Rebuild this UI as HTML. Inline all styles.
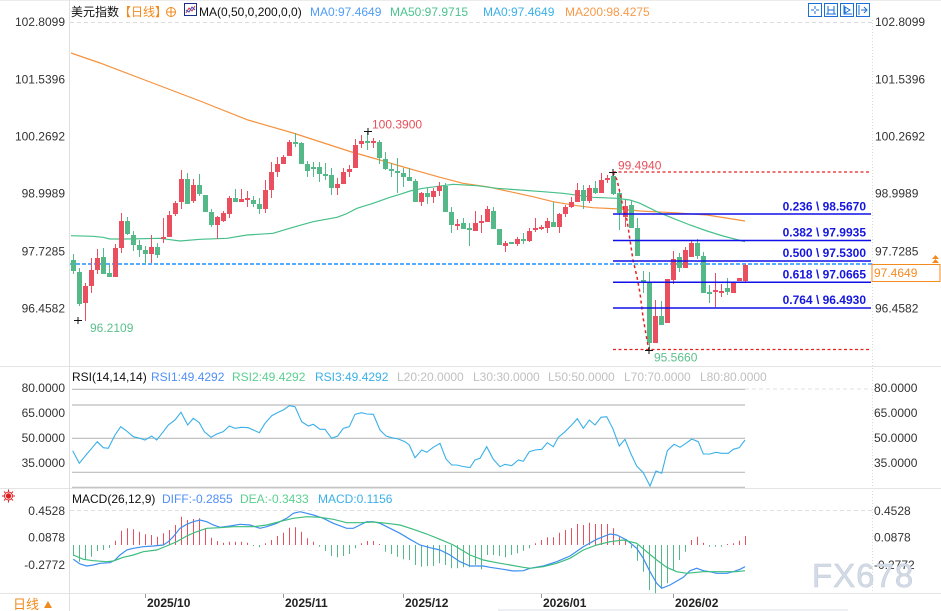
<!DOCTYPE html>
<html><head><meta charset="utf-8"><style>
html,body{margin:0;padding:0;background:#fff;}
body{width:941px;height:611px;overflow:hidden;}
svg{display:block;}
text{font-family:"Liberation Sans","Noto Sans CJK SC",sans-serif;font-size:12px;}
</style></head><body>
<svg width="941" height="611" viewBox="0 0 941 611" xmlns="http://www.w3.org/2000/svg">
<rect width="941" height="611" fill="#fff"/>
<!-- frame lines -->
<line x1="0" y1="0.5" x2="941" y2="0.5" stroke="#ececec"/>
<line x1="69.5" y1="0" x2="69.5" y2="611" stroke="#e0e0e0"/>
<line x1="872.5" y1="20" x2="872.5" y2="593" stroke="#d8d8d8" stroke-dasharray="1,2"/>
<line x1="0" y1="366.5" x2="941" y2="366.5" stroke="#e4e4e4"/>
<line x1="0" y1="488.5" x2="941" y2="488.5" stroke="#e4e4e4"/>
<line x1="0" y1="593.5" x2="941" y2="593.5" stroke="#e4e4e4"/>
<line x1="498" y1="610" x2="848" y2="610" stroke="#e6ecf2" stroke-width="1.5"/>

<!-- main grid -->
<line x1="70" y1="22.5" x2="872" y2="22.5" stroke="#dcdcdc" stroke-dasharray="4,3"/>

<!-- header -->
<text x="71" y="16" fill="#111">美元指数</text>
<text x="119" y="16" fill="#f08a1e">【日线】</text>
<circle cx="171" cy="12" r="4.5" fill="none" stroke="#f08a1e" stroke-width="1"/>
<line x1="166.5" y1="12" x2="175.5" y2="12" stroke="#f08a1e"/>
<line x1="171" y1="7.5" x2="171" y2="16.5" stroke="#f08a1e"/>
<rect x="184.5" y="3.5" width="12" height="12" fill="#fff" stroke="#1c2e8c"/>
<polyline points="186,13 189,8 192,11 195,6" fill="none" stroke="#e03030" stroke-width="1"/>
<polyline points="186,10 189,12 192,7 195,10" fill="none" stroke="#3050d0" stroke-width="1"/>
<text x="199" y="16" fill="#111">MA(0,50,0,200,0,0)</text>
<text x="310" y="16" fill="#4f9cf9">MA0:97.4649</text>
<text x="390" y="16" fill="#49c48e">MA50:97.9715</text>
<text x="483" y="16" fill="#3ab0e8">MA0:97.4649</text>
<text x="565" y="16" fill="#f79a4a">MA200:98.4275</text>

<!-- top right icons -->
<g fill="none" stroke="#1a6fd8" stroke-width="1">
<rect x="808.5" y="3.5" width="13" height="13"/>
<path d="M815 6v3M815 11v3M811 10h3M816 10h3"/>
<rect x="824.5" y="3.5" width="13" height="13"/>
<path d="M828 6v8M834 6v8M828 10h6M826 14h10"/>
<rect x="840.5" y="3.5" width="13" height="13"/>
<path d="M844 5v9h8M845 7l5 3-5 3z"/>
<rect x="856.5" y="3.5" width="13" height="13"/>
<path d="M859 5v10M861 10h5M864 7l3 3-3 3"/>
</g>

<!-- axis labels main -->
<g fill="#333">
<text x="65" y="26" text-anchor="end">102.8099</text>
<text x="65" y="83.5" text-anchor="end">101.5396</text>
<text x="65" y="140.5" text-anchor="end">100.2692</text>
<text x="65" y="197.5" text-anchor="end">98.9989</text>
<text x="65" y="255.5" text-anchor="end">97.7285</text>
<text x="65" y="312.5" text-anchor="end">96.4582</text>
<text x="875" y="26">102.8099</text>
<text x="875" y="83.5">101.5396</text>
<text x="875" y="140.5">100.2692</text>
<text x="875" y="197.5">98.9989</text>
<text x="875" y="255.5">97.7285</text>
<text x="875" y="312.5">96.4582</text>
</g>

<!-- MA200 -->
<polyline fill="none" stroke="#f5923e" stroke-width="1.2" points="71,53 100,63 150,82 200,101 248,120 293,133 350,151.5 373,158 400,166 420,171.7 440,177.3 463,183.3 487,186.7 510,191.7 533,196.7 553,201.7 577,205.7 593,207.7 620,209 640,211 673,212.7 707,215 745,221"/>
<!-- MA50 -->
<polyline fill="none" stroke="#46c08a" stroke-width="1.2" points="71,235.7 93,236.3 103,237.3 110,239 127,239 160,238.3 180,241 200,239.3 227,238.3 247,235 273,233.3 293,227.3 313,221.7 337,217.3 346,214 357,208.3 373,203.3 390,197.3 400,194.3 410,191 423,188.3 453,184.3 477,185.7 497,188.3 520,190 543,191.7 563,193.3 593,197.3 617,198.3 630,200 640,203.3 657,211.7 673,218.3 690,225 707,231 723,236 745,241.7"/>

<!-- current price dashed -->
<line x1="70" y1="264" x2="872" y2="264" stroke="#1e90ff" stroke-width="1.5" stroke-dasharray="4,2"/>

<!-- candles green -->
<path stroke="#55b888" stroke-width="1" fill="none" d="M73.5 254V274M79.5 268V306M103.5 248V274M109.5 265V277M127.5 217V235M133.5 231V251M139.5 240V257M145.5 246V264M157.5 243V258M187.5 173V204M199.5 174V196M211.5 209V227M235.5 189V202M253.5 196V207M259.5 198V214M295.5 133V147M301.5 142V164M307.5 161V177M313.5 162V177M319.5 162V182M325.5 163V180M331.5 168V195M367.5 131V150M379.5 140V164M385.5 152V170M391.5 163V177M397.5 158V193M403.5 168V187M409.5 168V181M415.5 179V202M427.5 188V204M445.5 183V212M451.5 207V233M463.5 218V229M469.5 223V246M493.5 207V229M523.5 233V244M553.5 202V227M583.5 185V209M595.5 181V194M613.5 172V195M619.5 189V230M631.5 200V228M637.5 218V256M643.5 271V293M649.5 272V351M661.5 301V325M679.5 253V272M697.5 239V259M703.5 252V293M709.5 285V303M727.5 278V295"/>
<path fill="#55b888" d="M71 260h5v11h-5zM77 272h5v32h-5zM101 257h5v17h-5zM107 273h5v4h-5zM125 221h5v13h-5zM131 235h5v10h-5zM137 245h5v5h-5zM143 250h5v4h-5zM155 247h5v8h-5zM185 179h5v25h-5zM197 185h5v9h-5zM203 195h5v17h-5zM209 212h5v13h-5zM233 198h5v4h-5zM251 200h5v4h-5zM257 204h5v5h-5zM293 142h5v2h-5zM299 143h5v21h-5zM305 164h5v7h-5zM311 167h5v2h-5zM317 167h5v7h-5zM323 174h5v2h-5zM329 175h5v13h-5zM365 141h5v2h-5zM377 142h5v16h-5zM383 159h5v10h-5zM389 169h5v2h-5zM395 171h5v2h-5zM401 173h5v4h-5zM407 177h5v4h-5zM413 181h5v21h-5zM425 193h5v4h-5zM443 186h5v26h-5zM449 212h5v13h-5zM461 223h5v6h-5zM467 228h5v2h-5zM491 211h5v18h-5zM497 229h5v16h-5zM509 242h5v2h-5zM521 239h5v2h-5zM551 222h5v5h-5zM581 190h5v11h-5zM593 188h5v5h-5zM611 176h5v18h-5zM617 193h5v20h-5zM629 205h5v23h-5zM635 228h5v28h-5zM641 280h5v3h-5zM647 283h5v60h-5zM659 316h5v9h-5zM677 257h5v11h-5zM695 243h5v13h-5zM701 256h5v37h-5zM707 292h5v2h-5zM725 288h5v4h-5z"/>
<!-- candles red -->
<path stroke="#ea4f5f" stroke-width="1" fill="none" d="M85.5 283V321M91.5 258V293M97.5 249V274M115.5 244V277M121.5 213V253M151.5 235V263M163.5 218V243M169.5 211V237M175.5 201V216M181.5 170V209M193.5 179V203M217.5 216V239M223.5 211V222M229.5 196V218M241.5 189V202M247.5 191V207M265.5 180V213M271.5 162V198M277.5 157V177M283.5 155V164M289.5 140V156M337.5 178V195M343.5 168V184M349.5 165V177M355.5 139V168M361.5 135V148M373.5 138V148M421.5 192V206M433.5 188V203M439.5 182V196M457.5 219V230M475.5 211V231M481.5 215V233M487.5 206V222M505.5 241V252M517.5 237V246M529.5 228V242M535.5 218V232M541.5 225V230M547.5 218V233M559.5 213V233M565.5 205V217M571.5 197V208M577.5 183V202M589.5 185V203M601.5 173V193M607.5 175V183M625.5 200V227M655.5 300V343M673.5 251V284M685.5 247V268M691.5 240V257M715.5 273V307M721.5 284V297M745.5 264V282"/>
<path fill="#ea4f5f" d="M83 286h5v17h-5zM89 270h5v16h-5zM95 258h5v12h-5zM113 248h5v29h-5zM119 221h5v27h-5zM149 247h5v7h-5zM161 237h5v2h-5zM167 215h5v22h-5zM173 203h5v11h-5zM179 179h5v23h-5zM191 185h5v16h-5zM215 217h5v8h-5zM221 213h5v8h-5zM227 198h5v16h-5zM239 199h5v3h-5zM245 198h5v2h-5zM263 190h5v19h-5zM269 172h5v18h-5zM275 164h5v8h-5zM281 157h5v7h-5zM287 142h5v14h-5zM335 184h5v4h-5zM341 172h5v12h-5zM347 169h5v3h-5zM353 145h5v23h-5zM359 141h5v3h-5zM371 141h5v2h-5zM419 193h5v9h-5zM431 191h5v6h-5zM437 186h5v5h-5zM455 224h5v2h-5zM473 223h5v8h-5zM479 221h5v2h-5zM485 209h5v13h-5zM503 243h5v3h-5zM515 239h5v5h-5zM527 231h5v10h-5zM533 228h5v2h-5zM539 227h5v2h-5zM545 221h5v7h-5zM557 214h5v13h-5zM563 207h5v7h-5zM569 202h5v5h-5zM575 190h5v12h-5zM587 188h5v13h-5zM599 180h5v13h-5zM605 178h5v2h-5zM623 206h5v11h-5zM653 316h5v27h-5zM665 279h5v44h-5zM671 259h5v21h-5zM683 250h5v18h-5zM689 243h5v14h-5zM713 290h5v2h-5zM719 291h5v2h-5zM731 283h5v10h-5zM737 278h5v3h-5zM743 265h5v16h-5z"/>

<!-- fibonacci -->
<line x1="613" y1="172" x2="870" y2="172" stroke="#e82020" stroke-width="1.3" stroke-dasharray="3,2.5"/>
<line x1="613" y1="349.5" x2="870" y2="349.5" stroke="#e82020" stroke-width="1.3" stroke-dasharray="3,2.5"/>
<polyline fill="none" stroke="#e82020" stroke-width="1.5" stroke-dasharray="3,3" points="613,172 617,180 620,193 623,207 627,220 630,240 633,260 637,277 640,293 643,317 647,340 649,350"/>
<g stroke="#1010e8" stroke-width="1.5">
<line x1="613" y1="214" x2="871" y2="214"/>
<line x1="613" y1="240.5" x2="871" y2="240.5"/>
<line x1="613" y1="261" x2="871" y2="261"/>
<line x1="613" y1="282.3" x2="871" y2="282.3"/>
<line x1="613" y1="308" x2="871" y2="308"/>
</g>
<g fill="#1515e0" font-weight="bold" text-anchor="end">
<text x="866" y="210.5" style="font-weight:bold">0.236 \ 98.5670</text>
<text x="866" y="236.5" style="font-weight:bold">0.382 \ 97.9935</text>
<text x="866" y="257" style="font-weight:bold">0.500 \ 97.5300</text>
<text x="866" y="278.5" style="font-weight:bold">0.618 \ 97.0665</text>
<text x="866" y="304" style="font-weight:bold">0.764 \ 96.4930</text>
</g>

<!-- high/low markers -->
<g stroke="#111" stroke-width="1">
<path d="M364 131.5h8M368 128v7"/>
<path d="M74 320.5h8M78 317v7"/>
<path d="M609 172.5h8M613 169v7"/>
<path d="M645 350.5h8M649 347v7"/>
</g>
<text x="372" y="128.5" fill="#e8505b">100.3900</text>
<text x="618" y="169.5" fill="#e8505b">99.4940</text>
<text x="90" y="332" fill="#5cc08c">96.2109</text>
<text x="654" y="361.5" fill="#5cc08c">95.5660</text>

<!-- current price label -->
<rect x="872" y="264.5" width="68" height="17" fill="#fff" stroke="#f58a1f"/>
<text x="874" y="277" fill="#f58a1f">97.4649</text>
<path d="M932 263l3.5-4 3.5 4zM932 259l3.5-4 3.5 4z" fill="#f58a1f"/>

<!-- RSI panel -->
<text x="72" y="381" fill="#111">RSI(14,14,14)</text>
<text x="151" y="381" fill="#4f8ff7">RSI1:49.4292</text>
<text x="232" y="381" fill="#5bcf8f">RSI2:49.4292</text>
<text x="315" y="381" fill="#3ab0e8">RSI3:49.4292</text>
<text x="397" y="381" fill="#c0c0c0">L20:20.0000</text>
<text x="473" y="381" fill="#c0c0c0">L30:30.0000</text>
<text x="548" y="381" fill="#c0c0c0">L50:50.0000</text>
<text x="624" y="381" fill="#c0c0c0">L70:70.0000</text>
<text x="700" y="381" fill="#c0c0c0">L80:80.0000</text>
<line x1="745" y1="389" x2="872" y2="389" stroke="#e0e0e0" stroke-dasharray="4,3"/>
<g stroke="#bcbcbc" stroke-width="1.2">
<line x1="72" y1="389.3" x2="745" y2="389.3"/>
<line x1="72" y1="405" x2="745" y2="405"/>
<line x1="72" y1="438.3" x2="745" y2="438.3"/>
<line x1="72" y1="472.3" x2="745" y2="472.3"/>
<line x1="72" y1="487.3" x2="745" y2="487.3"/>
</g>
<polyline fill="none" stroke="#3ab0e8" stroke-width="1.1" points="72.7,450.7 79.3,463.3 86,455 91.7,448.3 97.3,441.7 103.3,447.7 108.3,448.3 115,435 120.7,426.7 126.7,431 133.3,436.7 140,438.3 145,440 151.7,436 156.7,440 163.3,431.7 168.3,425 175,420 181,412.3 187.7,425 193.3,418.3 199.3,422.7 204.3,431.7 211,437.3 216.7,434 223.3,431.7 229.3,426 235,428.3 241.7,427.3 248.3,427.7 253.3,430 259.3,432.7 265,423.3 271.7,415.7 278.3,412.3 283.3,410 289.3,405.7 295,406.7 301.7,421.7 308.3,426 313.3,424.3 320,429.3 325,429.3 331.7,438.3 337.7,436 343.3,428.3 349.3,426.7 355,414.3 361.7,412.7 366.7,414 373.3,414.3 380,430 386,436 391.7,437.7 398.3,439 405,441.7 409.3,445 415,457.7 421.7,450 426.7,452.3 433.3,447.3 440,443.3 446,459 451.7,465 456.7,465 463,466.5 470,467.5 475,460 480,458.3 486.7,446.7 493.3,459.3 500,466.7 505,464.3 511.7,465.7 518.3,460 523.3,461.3 529.3,451.7 535,450 541.7,449.3 547.3,442.7 553.3,446.7 558.3,437.3 565,431.7 571.7,425 577.3,418.7 583.3,428.3 589.3,420 595,425 601,417.3 606.7,416.7 612.7,428.3 619.3,446 625,439.3 631,454 636.7,466 643.3,472.7 650,486 656,471 661.7,473.3 667.3,450.7 674,444.3 680,447.3 686,443.3 691.7,439 698.3,441.7 703.3,454 710,454 716,452.3 721.7,453.3 728.3,453.3 733.3,449.3 739.3,447.7 745,440"/>
<g fill="#333">
<text x="65" y="392" text-anchor="end">80.0000</text>
<text x="65" y="417" text-anchor="end">65.0000</text>
<text x="65" y="442" text-anchor="end">50.0000</text>
<text x="65" y="467" text-anchor="end">35.0000</text>
<text x="874" y="392">80.0000</text>
<text x="874" y="417">65.0000</text>
<text x="874" y="442">50.0000</text>
<text x="874" y="467">35.0000</text>
</g>

<!-- MACD panel -->
<g stroke="#e02020" fill="none" stroke-width="1">
<circle cx="8.5" cy="496" r="2.2" fill="#e02020"/>
<circle cx="8.5" cy="496" r="4"/>
<path d="M8.5 489.5v2M8.5 500.5v2M2 496h2M13 496h2M4 491.5l1.3 1.3M11.7 499.2l1.3 1.3M13 491.5l-1.3 1.3M5.3 499.2l-1.3 1.3"/>
</g>
<text x="72" y="503" fill="#111">MACD(26,12,9)</text>
<text x="162" y="503" fill="#4f8ff7">DIFF:-0.2855</text>
<text x="240" y="503" fill="#5bcf8f">DEA:-0.3433</text>
<text x="318" y="503" fill="#3ab0e8">MACD:0.1156</text>
<line x1="70" y1="510.5" x2="872" y2="510.5" stroke="#e0e0e0" stroke-dasharray="4,3"/>
<path stroke="#e94f5e" stroke-width="1" d="M115.5 545V540.7M121.5 545V530.7M127.5 545V528.3M133.5 545V529.3M139.5 545V531.7M145.5 545V534.3M151.5 545V535M157.5 545V536.7M163.5 545V533.3M169.5 545V530M175.5 545V525M181.5 545V516.7M187.5 545V520M193.5 545V519M199.5 545V518.3M205.5 545V528.3M211.5 545V537.7M217.5 545V541M223.5 545V542.7M229.5 545V541.7M235.5 545V541.7M241.5 545V541.7M247.5 545V542.7M265.5 545V543.3M271.5 545V540M277.5 545V536M283.5 545V532.7M289.5 545V527.7M295.5 545V527.3M301.5 545V531.7M307.5 545V538.3M313.5 545V541.7M361.5 545V543.3M367.5 545V541M373.5 545V541M379.5 545V544M535.5 545V543.3M541.5 545V540M547.5 545V537.3M553.5 545V537.3M559.5 545V532.7M565.5 545V530M571.5 545V528.3M577.5 545V524M583.5 545V525M589.5 545V522.7M595.5 545V524M601.5 545V524M607.5 545V524M613.5 545V528.3M619.5 545V537.3M625.5 545V540M691.5 545V540M697.5 545V536.7M703.5 545V542.7M727.5 545V544M733.5 545V543.3M739.5 545V540.7M745.5 545V536"/>
<path stroke="#55b888" stroke-width="1" d="M73.5 545V556M79.5 545V561.7M85.5 545V560M91.5 545V556.7M97.5 545V551M103.5 545V550M109.5 545V548M253.5 545V546M259.5 545V547.3M319.5 545V546.7M325.5 545V551M331.5 545V556M337.5 545V557.3M343.5 545V556M349.5 545V554M355.5 545V548.3M385.5 545V551.7M391.5 545V554M397.5 545V556.7M403.5 545V559.3M409.5 545V560M415.5 545V565M421.5 545V566.7M427.5 545V566M433.5 545V566M439.5 545V563.3M445.5 545V565M451.5 545V568.3M457.5 545V568.3M463.5 545V567.3M469.5 545V567.3M475.5 545V565M481.5 545V569.3M487.5 545V555M493.5 545V555M499.5 545V556M505.5 545V557.3M511.5 545V555M517.5 545V553.3M523.5 545V550.7M529.5 545V548.3M631.5 545V548.3M637.5 545V560.7M643.5 545V571.7M649.5 545V590M655.5 545V593.3M661.5 545V588.3M667.5 545V583.3M673.5 545V570M679.5 545V560M685.5 545V551.7M709.5 545V546.7M715.5 545V546.7M721.5 545V546.7"/>
<polyline fill="none" stroke="#3d8ef0" stroke-width="1.2" points="73.3,559.3 80,564 86.7,566 93.3,565 100,563.3 110,562.7 115,560 120,555 126.7,550 133.3,548.3 143.3,546.7 153.3,546 163.3,545 168.3,541.7 173.3,536.7 180,528.3 186.7,524.3 193.3,521.7 200,520 206.7,521.7 213.3,525 220,527.3 230,526 240,524.3 250,525 260,528.3 266.7,526.7 276.7,523.3 286.7,518.3 293.3,513.3 300,511.7 306.7,513.3 313.3,515 323.3,518.3 333.3,523.3 346.7,528.3 353.3,528.3 360,525 366.7,521.7 373.3,521.7 380,523.3 390,528.3 400,533.3 410,539.3 420,545 430,547.7 440,550 450,555 460,561.7 470,566 483.3,566 490,567.3 503.3,569.3 513.3,571 523.3,570.7 530,568.3 543.3,566 556.7,561.7 570,556 583.3,546.7 596.7,539.3 610,534 616.7,535 626.7,540 636.7,548.3 643.3,558.3 650,571.7 656.7,583.3 661.7,588.3 670,585 683.3,577.3 690,570.7 696.7,568.3 703.3,570.7 710,571.7 716.7,573.3 726.7,573.3 733.3,571.7 740,569.3 745,566.7"/>
<polyline fill="none" stroke="#3dbd7d" stroke-width="1.2" points="73.3,555 83.3,559.3 93.3,560.7 106.7,561.7 113.3,561 123.3,557.3 133.3,555 143.3,551.7 156.7,550 166.7,546 176.7,541.7 186.7,536 196.7,531.7 206.7,528.3 220,527.7 233.3,526.7 253.3,526.7 266.7,525 283.3,520.7 293.3,518.3 306.7,516.7 320,517.3 333.3,519.3 346.7,522.7 360,522.7 373.3,522 386.7,523.3 400,525 413.3,529.3 426.7,534 440,539.3 453.3,545 470,555 483.3,560 496.7,562.7 510,565 523.3,567.3 530,568.3 543.3,566.7 556.7,563.3 570,558.3 583.3,550 596.7,545 610,541.7 623.3,540 636.7,543.3 646.7,551.7 656.7,560 666.7,567.3 676.7,571.7 686.7,573.3 703.3,571.7 723.3,571.7 736.7,571.7 745,570.7"/>
<g fill="#333">
<text x="65" y="515" text-anchor="end">0.4528</text>
<text x="65" y="541.5" text-anchor="end">0.0878</text>
<text x="65" y="569" text-anchor="end">-0.2772</text>
<text x="874" y="515">0.4528</text>
<text x="874" y="541.5">0.0878</text>
<text x="874" y="569">-0.2772</text>
</g>

<!-- watermark -->
<text x="812" y="587" fill="#d3dbe6" stroke="#c4cdda" stroke-width="0.6" style="font-size:33px;letter-spacing:1px">FX678</text>

<!-- x axis -->
<g stroke="#999">
<line x1="145.5" y1="594" x2="145.5" y2="598"/>
<line x1="283.5" y1="594" x2="283.5" y2="598"/>
<line x1="403.5" y1="594" x2="403.5" y2="598"/>
<line x1="541.5" y1="594" x2="541.5" y2="598"/>
<line x1="673.5" y1="594" x2="673.5" y2="598"/>
</g>
<g fill="#222" style="font-weight:bold">
<text x="147" y="607" style="font-weight:bold">2025/10</text>
<text x="285" y="607" style="font-weight:bold">2025/11</text>
<text x="405" y="607" style="font-weight:bold">2025/12</text>
<text x="543" y="607" style="font-weight:bold">2026/01</text>
<text x="675" y="607" style="font-weight:bold">2026/02</text>
</g>
<text x="13" y="609" fill="#f08a1e" style="font-size:13px">日线</text>
<path d="M44 608l4-7 4 7z" fill="#f08a1e"/>
</svg>
</body></html>
